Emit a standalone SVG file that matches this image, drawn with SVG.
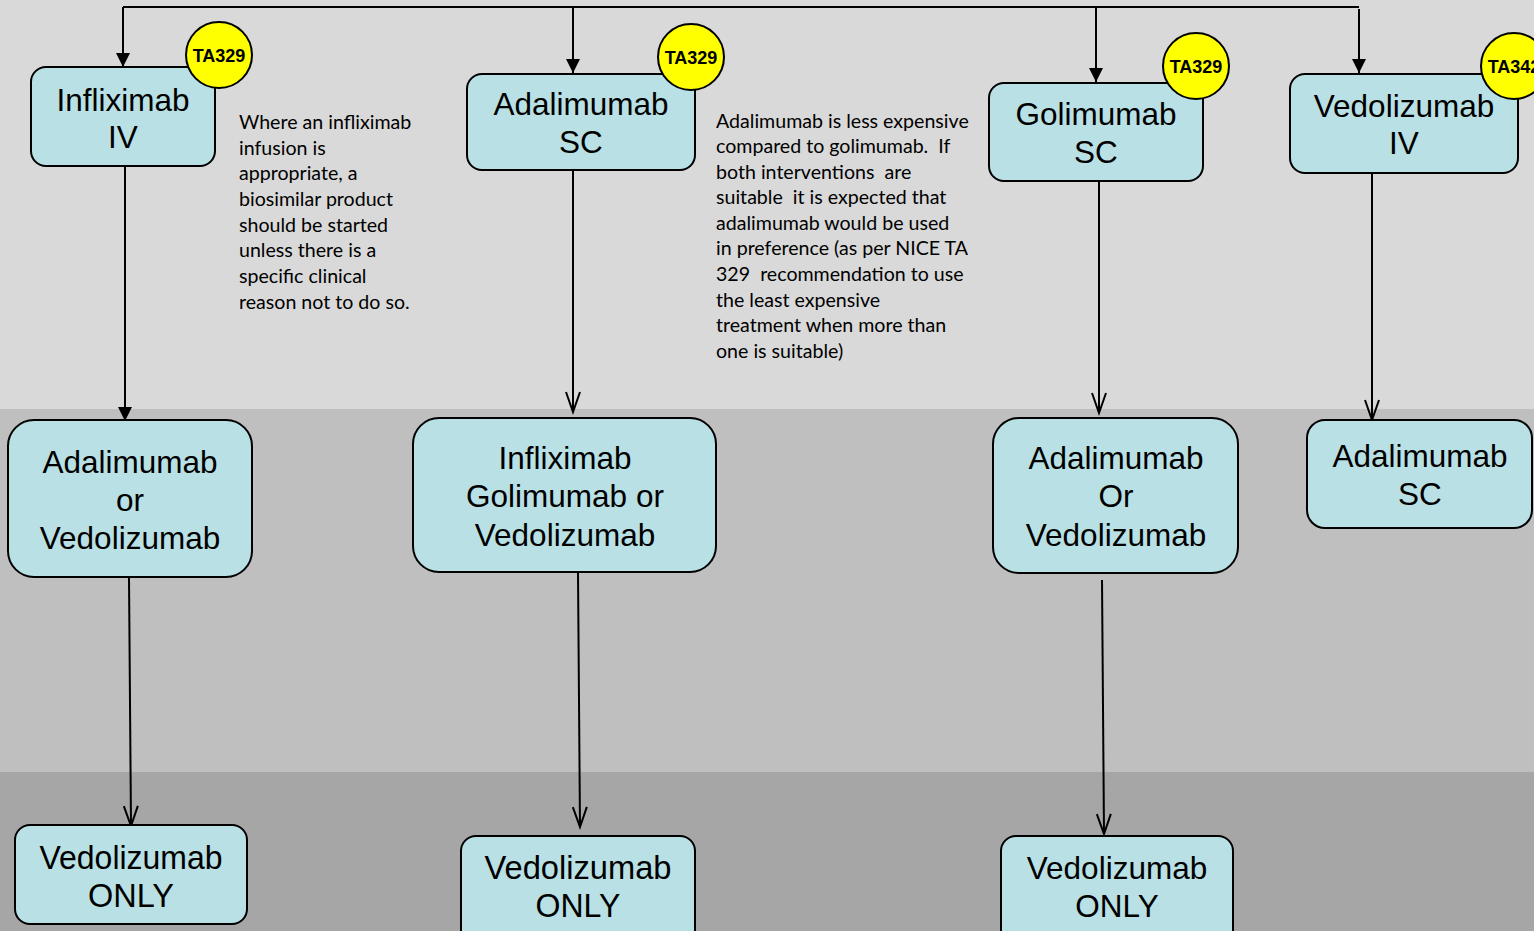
<svg xmlns="http://www.w3.org/2000/svg" width="1534" height="931" viewBox="0 0 1534 931">
<style>
.box{fill:#b9e0e4;stroke:#000;stroke-width:2}
.lbl{font-family:"Liberation Sans",Arial,sans-serif;font-size:31.5px;fill:#000;text-anchor:middle}
.nar{font-family:"Liberation Sans",Arial,sans-serif;font-size:34px;fill:#000;text-anchor:middle}
.badge{fill:#ffff00;stroke:#000;stroke-width:2}
.btxt{font-family:"Liberation Sans",Arial,sans-serif;font-size:18px;font-weight:bold;fill:#000;text-anchor:middle}
.note{font-family:Lato,"Liberation Sans",sans-serif;font-size:19.6px;fill:#000;white-space:pre}
.ln{fill:none;stroke:#000;stroke-width:2}
</style>
<defs>
<marker id="fa" markerWidth="16" markerHeight="16" refX="14" refY="7" orient="auto" markerUnits="userSpaceOnUse">
<path d="M0,0 L14,7 L0,14 Z" fill="#000"/>
</marker>
<marker id="oa" markerWidth="24" markerHeight="20" refX="21" refY="8" orient="auto" markerUnits="userSpaceOnUse">
<path d="M1,1 L21,8 L1,15" fill="none" stroke="#000" stroke-width="2"/>
</marker>
</defs>
<g id="background">
<rect x="0" y="0" width="1534" height="409" fill="#d9d9d9"/>
<rect x="0" y="409" width="1534" height="363" fill="#bfbfbf"/>
<rect x="0" y="772" width="1534" height="159" fill="#a6a6a6"/>
</g>
<g id="connectors">
<path class="ln" d="M123,7 H1359"/>
<path class="ln" d="M123,7 V67" marker-end="url(#fa)"/>
<path class="ln" d="M573,7 V73" marker-end="url(#fa)"/>
<path class="ln" d="M1096,7 V82" marker-end="url(#fa)"/>
<path class="ln" d="M1359,9 V73" marker-end="url(#fa)"/>
<path class="ln" d="M125,167 V421" marker-end="url(#fa)"/>
<path class="ln" d="M573,171 V412" marker-end="url(#oa)"/>
<path class="ln" d="M1099,182 V413" marker-end="url(#oa)"/>
<path class="ln" d="M1372,174 V420" marker-end="url(#oa)"/>
<path class="ln" d="M129,578 L131,826" marker-end="url(#oa)"/>
<path class="ln" d="M578,573 L580,827" marker-end="url(#oa)"/>
<path class="ln" d="M1102,580 L1104,834" marker-end="url(#oa)"/>
</g>
<g id="infliximab-iv">
<rect class="box" x="31" y="67" width="184" height="99" rx="15"/>
<text class="lbl" x="123" y="111">Infliximab</text>
<text class="lbl" x="123" y="148">IV</text>
</g>
<g id="badge-1">
<circle class="badge" cx="219" cy="55" r="33"/>
<text class="btxt" x="219" y="61.5">TA329</text>
</g>
<g id="adalimumab-sc">
<rect class="box" x="467" y="74" width="228" height="96" rx="15"/>
<text class="lbl" x="581" y="115">Adalimumab</text>
<text class="lbl" x="581" y="153">SC</text>
</g>
<g id="badge-2">
<circle class="badge" cx="691" cy="57" r="33"/>
<text class="btxt" x="691" y="63.5">TA329</text>
</g>
<g id="golimumab-sc">
<rect class="box" x="989" y="83" width="214" height="98" rx="15"/>
<text class="lbl" x="1096" y="125">Golimumab</text>
<text class="lbl" x="1096" y="163">SC</text>
</g>
<g id="badge-3">
<circle class="badge" cx="1196" cy="66" r="33"/>
<text class="btxt" x="1196" y="72.5">TA329</text>
</g>
<g id="vedolizumab-iv">
<rect class="box" x="1290" y="74" width="228" height="99" rx="15"/>
<text class="lbl" x="1404" y="117">Vedolizumab</text>
<text class="lbl" x="1404" y="154">IV</text>
</g>
<g id="badge-4">
<circle class="badge" cx="1514" cy="66" r="33"/>
<text class="btxt" x="1514" y="72.5">TA342</text>
</g>
<g id="note-1">
<text class="note" x="239" y="129">Where an infliximab</text>
<text class="note" x="239" y="155">infusion is</text>
<text class="note" x="239" y="180">appropriate, a</text>
<text class="note" x="239" y="206">biosimilar product</text>
<text class="note" x="239" y="232">should be started</text>
<text class="note" x="239" y="257">unless there is a</text>
<text class="note" x="239" y="283">specific clinical</text>
<text class="note" x="239" y="309">reason not to do so.</text>
</g>
<g id="note-2">
<text class="note" x="716" y="128">Adalimumab is less expensive</text>
<text class="note" x="716" y="153" xml:space="preserve">compared to golimumab.  If</text>
<text class="note" x="716" y="179" xml:space="preserve">both interventions  are</text>
<text class="note" x="716" y="204" xml:space="preserve">suitable  it is expected that</text>
<text class="note" x="716" y="230">adalimumab would be used</text>
<text class="note" x="716" y="255">in preference (as per NICE TA</text>
<text class="note" x="716" y="281" xml:space="preserve">329  recommendation to use</text>
<text class="note" x="716" y="307">the least expensive</text>
<text class="note" x="716" y="332">treatment when more than</text>
<text class="note" x="716" y="358">one is suitable)</text>
</g>
<g id="ada-or-vedo-1">
<rect class="box" x="8" y="420" width="244" height="157" rx="26"/>
<text class="lbl" x="130" y="473">Adalimumab</text>
<text class="lbl" x="130" y="511">or</text>
<text class="lbl" x="130" y="549">Vedolizumab</text>
</g>
<g id="inf-gol-vedo">
<rect class="box" x="413" y="418" width="303" height="154" rx="26"/>
<text class="lbl" x="565" y="469">Infliximab</text>
<text class="lbl" x="565" y="507">Golimumab or</text>
<text class="lbl" x="565" y="546">Vedolizumab</text>
</g>
<g id="ada-or-vedo-2">
<rect class="box" x="993" y="418" width="245" height="155" rx="26"/>
<text class="lbl" x="1116" y="469">Adalimumab</text>
<text class="lbl" x="1116" y="507">Or</text>
<text class="lbl" x="1116" y="546">Vedolizumab</text>
</g>
<g id="adalimumab-sc-2">
<rect class="box" x="1307" y="420" width="225" height="108" rx="18"/>
<text class="lbl" x="1420" y="467">Adalimumab</text>
<text class="lbl" x="1420" y="505">SC</text>
</g>
<g id="vedo-only-1">
<rect class="box" x="15" y="825" width="232" height="99" rx="15"/>
<text class="nar" x="131" y="869" textLength="183" lengthAdjust="spacingAndGlyphs">Vedolizumab</text>
<text class="nar" x="131" y="907" textLength="86" lengthAdjust="spacingAndGlyphs">ONLY</text>
</g>
<g id="vedo-only-2">
<rect class="box" x="461" y="836" width="234" height="110" rx="15"/>
<text class="nar" x="578" y="879" textLength="187" lengthAdjust="spacingAndGlyphs">Vedolizumab</text>
<text class="nar" x="578" y="917" textLength="85" lengthAdjust="spacingAndGlyphs">ONLY</text>
</g>
<g id="vedo-only-3">
<rect class="box" x="1001" y="836" width="232" height="110" rx="15"/>
<text class="lbl" x="1117" y="879">Vedolizumab</text>
<text class="lbl" x="1117" y="917">ONLY</text>
</g>
</svg>
